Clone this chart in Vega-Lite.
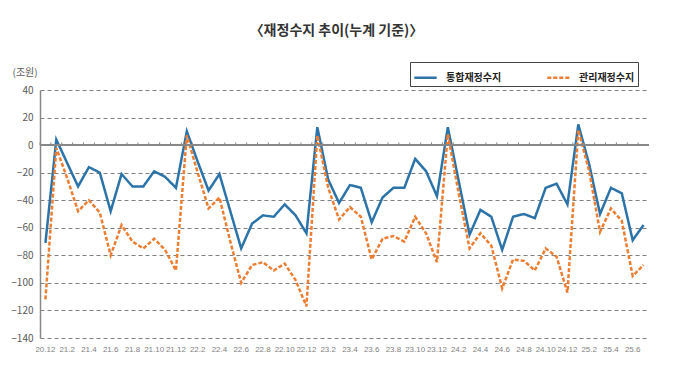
{
  "$schema": "https://vega.github.io/schema/vega-lite/v6.json",
  "width": 609,
  "height": 248,
  "autosize": {"type": "none"},
  "padding": {"left": 40, "top": 90, "right": 31, "bottom": 46},
  "background": "white",
  "config": {"view": {"stroke": null}, "font": "Noto Sans CJK KR"},
  "title": {"text": "〈재정수지 추이(누계 기준)〉", "fontSize": 14, "fontWeight": "bold", "color": "#333333", "anchor": "middle", "offset": 24, "dx": -8, "font": "Noto Sans CJK KR"},
  "data": {"values": [
    {"m": "20.12", "통합재정수지": -71, "관리재정수지": -112},
    {"m": "21.1", "통합재정수지": 4, "관리재정수지": -2},
    {"m": "21.2", "통합재정수지": -13, "관리재정수지": -24},
    {"m": "21.3", "통합재정수지": -30, "관리재정수지": -48},
    {"m": "21.4", "통합재정수지": -16, "관리재정수지": -40},
    {"m": "21.5", "통합재정수지": -20, "관리재정수지": -49},
    {"m": "21.6", "통합재정수지": -48, "관리재정수지": -80},
    {"m": "21.7", "통합재정수지": -21, "관리재정수지": -58},
    {"m": "21.8", "통합재정수지": -30, "관리재정수지": -70},
    {"m": "21.9", "통합재정수지": -30, "관리재정수지": -75},
    {"m": "21.10", "통합재정수지": -19, "관리재정수지": -68},
    {"m": "21.11", "통합재정수지": -23, "관리재정수지": -76},
    {"m": "21.12", "통합재정수지": -31, "관리재정수지": -91},
    {"m": "22.1", "통합재정수지": 10, "관리재정수지": 7},
    {"m": "22.2", "통합재정수지": -12, "관리재정수지": -20},
    {"m": "22.3", "통합재정수지": -33, "관리재정수지": -46},
    {"m": "22.4", "통합재정수지": -21, "관리재정수지": -38},
    {"m": "22.5", "통합재정수지": -48, "관리재정수지": -70},
    {"m": "22.6", "통합재정수지": -75, "관리재정수지": -100},
    {"m": "22.7", "통합재정수지": -57, "관리재정수지": -87},
    {"m": "22.8", "통합재정수지": -51, "관리재정수지": -85},
    {"m": "22.9", "통합재정수지": -52, "관리재정수지": -91},
    {"m": "22.10", "통합재정수지": -43, "관리재정수지": -86},
    {"m": "22.11", "통합재정수지": -51, "관리재정수지": -98},
    {"m": "22.12", "통합재정수지": -64, "관리재정수지": -117},
    {"m": "23.1", "통합재정수지": 13, "관리재정수지": 7},
    {"m": "23.2", "통합재정수지": -25, "관리재정수지": -31},
    {"m": "23.3", "통합재정수지": -42, "관리재정수지": -54},
    {"m": "23.4", "통합재정수지": -29, "관리재정수지": -45},
    {"m": "23.5", "통합재정수지": -31, "관리재정수지": -52},
    {"m": "23.6", "통합재정수지": -56, "관리재정수지": -83},
    {"m": "23.7", "통합재정수지": -38, "관리재정수지": -68},
    {"m": "23.8", "통합재정수지": -31, "관리재정수지": -66},
    {"m": "23.9", "통합재정수지": -31, "관리재정수지": -70},
    {"m": "23.10", "통합재정수지": -10, "관리재정수지": -52},
    {"m": "23.11", "통합재정수지": -19, "관리재정수지": -64},
    {"m": "23.12", "통합재정수지": -37, "관리재정수지": -85},
    {"m": "24.1", "통합재정수지": 13, "관리재정수지": 8},
    {"m": "24.2", "통합재정수지": -26, "관리재정수지": -35},
    {"m": "24.3", "통합재정수지": -65, "관리재정수지": -75},
    {"m": "24.4", "통합재정수지": -47, "관리재정수지": -64},
    {"m": "24.5", "통합재정수지": -52, "관리재정수지": -73},
    {"m": "24.6", "통합재정수지": -76, "관리재정수지": -104},
    {"m": "24.7", "통합재정수지": -52, "관리재정수지": -83},
    {"m": "24.8", "통합재정수지": -50, "관리재정수지": -84},
    {"m": "24.9", "통합재정수지": -53, "관리재정수지": -91},
    {"m": "24.10", "통합재정수지": -31, "관리재정수지": -75},
    {"m": "24.11", "통합재정수지": -28, "관리재정수지": -81},
    {"m": "24.12", "통합재정수지": -43, "관리재정수지": -107},
    {"m": "25.1", "통합재정수지": 15, "관리재정수지": 11},
    {"m": "25.2", "통합재정수지": -14, "관리재정수지": -19},
    {"m": "25.3", "통합재정수지": -50, "관리재정수지": -63},
    {"m": "25.4", "통합재정수지": -31, "관리재정수지": -46},
    {"m": "25.5", "통합재정수지": -35, "관리재정수지": -55},
    {"m": "25.6", "통합재정수지": -69, "관리재정수지": -95},
    {"m": "25.7", "통합재정수지": -58, "관리재정수지": -87}
  ]},
  "layer": [
    {
      "transform": [{"fold": ["통합재정수지", "관리재정수지"], "as": ["series", "value"]}],
      "mark": {"type": "line", "strokeWidth": 2.5},
      "encoding": {
        "x": {
          "field": "m", "type": "ordinal", "sort": null,
          "scale": {"paddingInner": 0, "paddingOuter": 0},
          "axis": {
            "title": null, "labelAngle": 0, "domain": false, "ticks": false, "grid": false, "labelOverlap": false,
            "values": ["20.12","21.2","21.4","21.6","21.8","21.10","21.12","22.2","22.4","22.6","22.8","22.10","22.12","23.2","23.4","23.6","23.8","23.10","23.12","24.2","24.4","24.6","24.8","24.10","24.12","25.2","25.4","25.6"],
            "labelFont": "Liberation Sans", "labelFontSize": 8, "labelColor": "#7f7f7f", "labelPadding": 7
          }
        },
        "y": {
          "field": "value", "type": "quantitative",
          "scale": {"domain": [-140, 40], "nice": false, "zero": false},
          "axis": {
            "title": "(조원)", "titleAngle": 0, "titleX": -28, "titleY": -18, "titleAlign": "left", "titleBaseline": "middle",
            "titleFontSize": 10, "titleFontWeight": "normal", "titleColor": "#595959",
            "values": [40, 20, 0, -20, -40, -60, -80, -100, -120, -140], "tickCount": 12, "labelOverlap": false,
            "grid": true, "gridColor": "#808080", "gridWidth": 1, "gridDash": [4, 3],
            "ticks": false, "domainColor": "#888888", "domainWidth": 1.5,
            "labelColor": "#595959", "labelFontSize": 10, "labelPadding": 7
          }
        },
        "color": {
          "field": "series", "type": "nominal",
          "scale": {"domain": ["통합재정수지", "관리재정수지"], "range": ["#2B73A8", "#ED7D31"]},
          "legend": {
            "title": null, "orient": "none", "legendX": 370, "legendY": -28, "direction": "horizontal",
            "strokeColor": "#444444", "fillColor": "white", "padding": 3,
            "symbolType": "stroke", "symbolSize": 500, "symbolStrokeWidth": 2.5,
            "labelFontSize": 10, "labelFontWeight": "bold", "labelColor": "#222222",
            "columnPadding": 40, "labelOffset": 8
          }
        },
        "strokeDash": {
          "field": "series", "type": "nominal",
          "scale": {"domain": ["통합재정수지", "관리재정수지"], "range": [[1, 0], [4, 2]]},
          "legend": {
            "title": null, "orient": "none", "legendX": 370, "legendY": -28, "direction": "horizontal",
            "strokeColor": "#444444", "fillColor": "white", "padding": 3,
            "symbolType": "stroke", "symbolSize": 500, "symbolStrokeWidth": 2.5,
            "labelFontSize": 10, "labelFontWeight": "bold", "labelColor": "#222222",
            "columnPadding": 40, "labelOffset": 8
          }
        }
      }
    },
    {
      "mark": {"type": "rule", "color": "#888888", "strokeWidth": 1.2},
      "encoding": {"y": {"datum": 0, "type": "quantitative"}}
    },
    {
      "mark": {"type": "rule", "color": "#888888", "strokeWidth": 1},
      "encoding": {
        "x": {"field": "m", "type": "ordinal", "sort": null, "bandPosition": 0},
        "y": {"datum": 0, "type": "quantitative"},
        "y2": {"datum": 2}
      }
    }
  ]
}
